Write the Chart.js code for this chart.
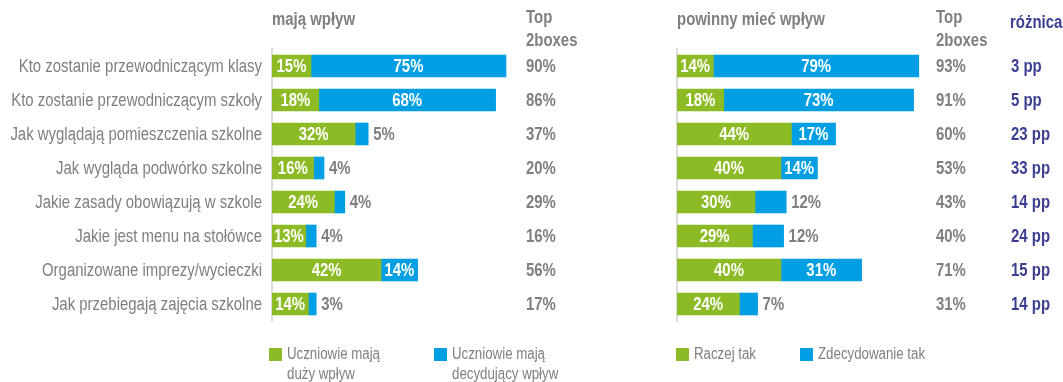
<!DOCTYPE html>
<html>
<head>
<meta charset="utf-8">
<script src="https://cdn.jsdelivr.net/npm/chart.js@4/dist/chart.umd.min.js"></script>
<style>
  html, body { margin: 0; padding: 0; background: #fff; }
  #wrap { position: relative; width: 1063px; height: 382px; }
  #haveChart { position: absolute; left: 0; top: 0; }
  #shouldChart { position: absolute; left: 660px; top: 0; }
</style>
</head>
<body>
<div id="wrap">
  <canvas id="haveChart" width="660" height="382"></canvas>
  <canvas id="shouldChart" width="403" height="382"></canvas>
</div>
<script>
const categories = [
  'Kto zostanie przewodniczącym klasy',
  'Kto zostanie przewodniczącym szkoły',
  'Jak wyglądają pomieszczenia szkolne',
  'Jak wygląda podwórko szkolne',
  'Jakie zasady obowiązują w szkole',
  'Jakie jest menu na stołówce',
  'Organizowane imprezy/wycieczki',
  'Jak przebiegają zajęcia szkolne'
];

// "mają wpływ"
const haveBig = [15, 18, 32, 16, 24, 13, 42, 14];
const haveDecisive = [75, 68, 5, 4, 4, 4, 14, 3];
const haveTop2 = [90, 86, 37, 20, 29, 16, 56, 17];

// "powinny mieć wpływ"
const shouldRather = [14, 18, 44, 40, 30, 29, 40, 24];
const shouldDefinitely = [79, 73, 17, 14, 12, 12, 31, 7];
const shouldTop2 = [93, 91, 60, 53, 43, 40, 71, 31];
const gapPp = [3, 5, 23, 33, 14, 24, 15, 14];

const GREEN = '#8cbb26';
const BLUE = '#009fe3';
const GREY = '#7f7f7f';
const NAVY = '#3c3f91';
const FONT = '"Liberation Sans", Arial, sans-serif';
const NARROW = 0.83; // condensed look: squeeze text horizontally

Chart.defaults.font.family = FONT;
Chart.defaults.color = GREY;

function narrowText(ctx, text, x, y, align, font, color) {
  ctx.save();
  ctx.font = font;
  ctx.fillStyle = color;
  ctx.textAlign = align;
  ctx.textBaseline = 'middle';
  ctx.translate(x, y);
  ctx.scale(NARROW, 1);
  ctx.fillText(text, 0, 0);
  ctx.restore();
}

const BOLD = 'bold 18px ' + FONT;
const PLAIN = '18px ' + FONT;
const SMALL = '16px ' + FONT;

// value labels: white inside the segment, grey beside the bar when it is too short
const barLabels = {
  id: 'barLabels',
  afterDatasetsDraw(chart) {
    const ctx = chart.ctx;
    chart.data.datasets.forEach((ds, di) => {
      const meta = chart.getDatasetMeta(di);
      meta.data.forEach((bar, i) => {
        const v = ds.data[i];
        if (di === 1 && v < 14) {
          narrowText(ctx, v + '%', bar.x + 5, bar.y + 1, 'left', BOLD, GREY);
        } else {
          narrowText(ctx, v + '%', (bar.base + bar.x) / 2, bar.y + 1, 'center', BOLD, '#fff');
        }
      });
    });
  }
};

// category names, headers, side columns and the legend
const sideText = {
  id: 'sideText',
  afterDraw(chart, args, opts) {
    const ctx = chart.ctx;
    const yScale = chart.scales.y;
    const left = chart.chartArea.left;

    if (opts.showCategories) {
      chart.data.labels.forEach((lab, i) => {
        narrowText(ctx, lab, left - 10, yScale.getPixelForValue(i) + 1, 'right', PLAIN, GREY);
      });
    }

    narrowText(ctx, opts.title, left, 20, 'left', BOLD, GREY);
    narrowText(ctx, 'Top', opts.topX, 18, 'left', BOLD, GREY);
    narrowText(ctx, '2boxes', opts.topX, 41, 'left', BOLD, GREY);
    opts.top2.forEach((v, i) => {
      narrowText(ctx, v + '%', opts.topX, yScale.getPixelForValue(i) + 1, 'left', BOLD, GREY);
    });

    if (opts.gap) {
      narrowText(ctx, 'różnica', opts.gapX, 23, 'left', BOLD, NAVY);
      opts.gap.forEach((v, i) => {
        narrowText(ctx, v + ' pp', opts.gapX + 1, yScale.getPixelForValue(i) + 1, 'left', BOLD, NAVY);
      });
    }

    chart.data.datasets.forEach((ds, di) => {
      const lx = opts.legendX[di];
      ctx.fillStyle = ds.backgroundColor;
      ctx.fillRect(lx, 348, 13, 13);
      ds.legendLines.forEach((line, li) => {
        narrowText(ctx, line, lx + 18, 355 + li * 20, 'left', SMALL, GREY);
      });
    });
  }
};

function makeChart(id, a, b, yWidth, padRight, textOpts) {
  return new Chart(document.getElementById(id), {
    type: 'bar',
    data: {
      labels: categories,
      datasets: [
        { label: a.label, legendLines: a.lines, data: a.data, backgroundColor: GREEN, barThickness: 22 },
        { label: b.label, legendLines: b.lines, data: b.data, backgroundColor: BLUE, barThickness: 22 }
      ]
    },
    options: {
      indexAxis: 'y',
      responsive: false,
      animation: false,
      layout: { padding: { top: 49, bottom: 61, left: 0, right: padRight } },
      plugins: {
        legend: { display: false },
        tooltip: { enabled: false },
        sideText: textOpts
      },
      scales: {
        x: { stacked: true, min: 0, max: 100, display: false },
        y: {
          stacked: true,
          grid: { display: false, drawTicks: false },
          border: { display: true, color: '#dcdcdc', width: 2 },
          ticks: { display: false },
          afterFit(scale) { scale.width = yWidth; }
        }
      }
    },
    plugins: [barLabels, sideText]
  });
}

makeChart('haveChart',
  { label: 'Uczniowie mają duży wpływ', lines: ['Uczniowie mają', 'duży wpływ'], data: haveBig },
  { label: 'Uczniowie mają decydujący wpływ', lines: ['Uczniowie mają', 'decydujący wpływ'], data: haveDecisive },
  272, 128,
  { title: 'mają wpływ', showCategories: true, topX: 526, top2: haveTop2, legendX: [269, 434] });

makeChart('shouldChart',
  { label: 'Raczej tak', lines: ['Raczej tak'], data: shouldRather },
  { label: 'Zdecydowanie tak', lines: ['Zdecydowanie tak'], data: shouldDefinitely },
  17, 126,
  { title: 'powinny mieć wpływ', showCategories: false, topX: 276, top2: shouldTop2, gap: gapPp, gapX: 350, legendX: [16, 140] });
</script>
</body>
</html>
